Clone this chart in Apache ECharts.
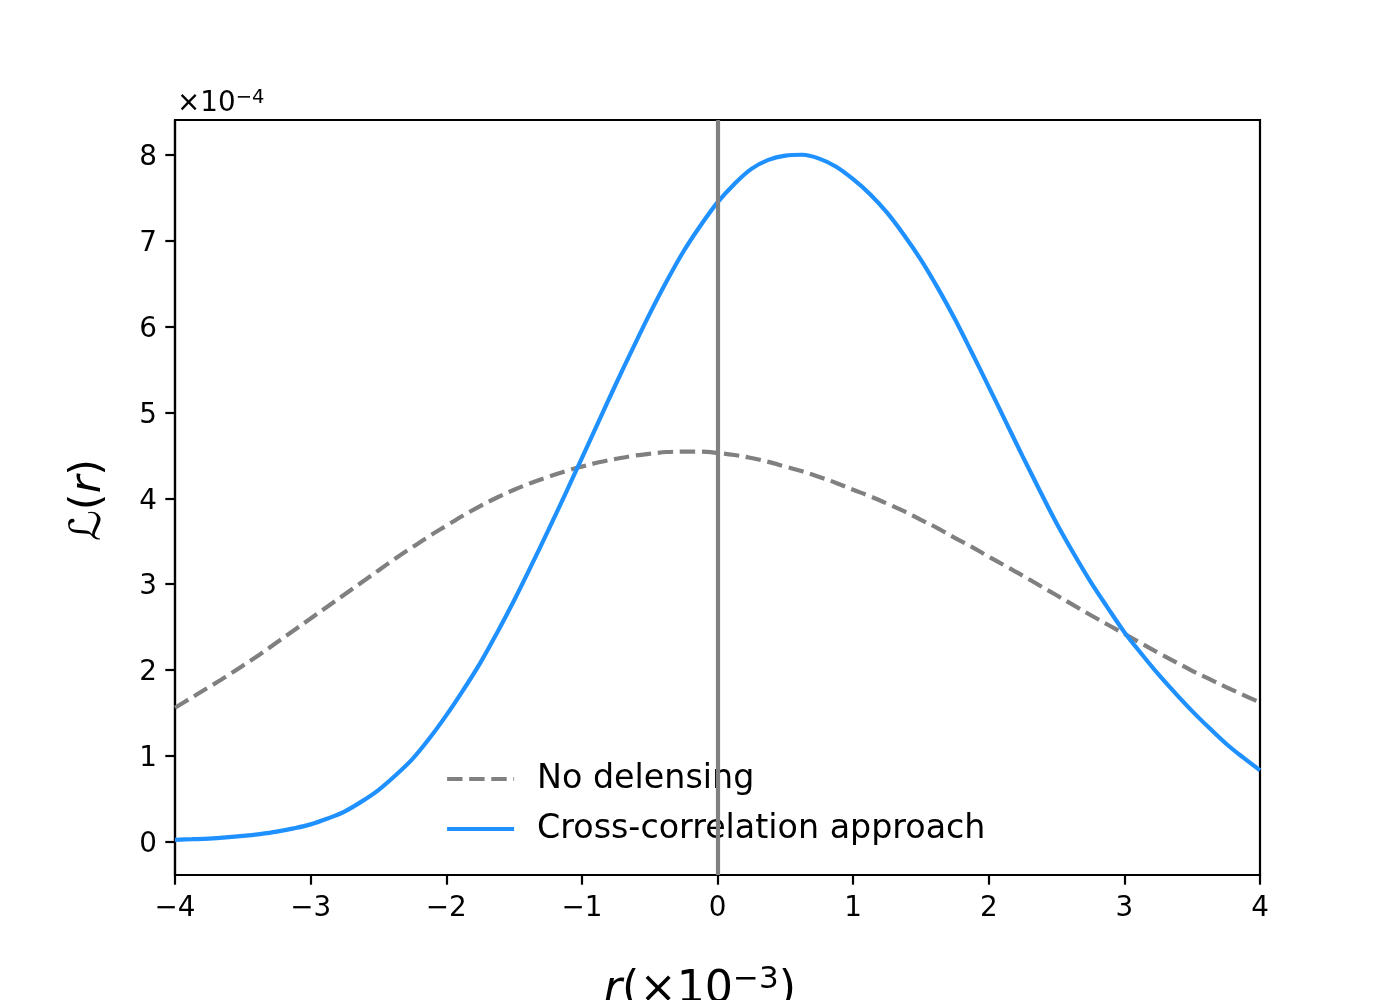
<!DOCTYPE html>
<html>
<head>
<meta charset="utf-8">
<script src="https://cdn.jsdelivr.net/npm/echarts@6/dist/echarts.min.js"></script>
<style>
html,body{margin:0;padding:0;background:#fff;}
#chart{width:1400px;height:1000px;}
</style>
</head>
<body>
<div id="chart"></div>
<script>
// r (x1e-3) sample positions
var rValues = [-4, -3.875, -3.75, -3.625, -3.5, -3.375, -3.25, -3.125, -3, -2.875, -2.75, -2.625, -2.5, -2.375, -2.25, -2.125,
               -2, -1.875, -1.75, -1.625, -1.5, -1.375, -1.25, -1.125, -1, -0.875, -0.75, -0.625, -0.5, -0.375, -0.25, -0.125,
               0, 0.125, 0.25, 0.375, 0.5, 0.625, 0.75, 0.875, 1, 1.125, 1.25, 1.375, 1.5, 1.625, 1.75, 1.875,
               2, 2.125, 2.25, 2.375, 2.5, 2.625, 2.75, 2.875, 3, 3.125, 3.25, 3.375, 3.5, 3.625, 3.75, 3.875, 4];
// Likelihood (x1e-4)
var noDelensing = [1.56, 1.68, 1.80, 1.92, 2.05, 2.18, 2.32, 2.46, 2.60, 2.74, 2.88, 3.02, 3.16, 3.30, 3.43, 3.56,
                   3.68, 3.80, 3.91, 4.01, 4.10, 4.18, 4.25, 4.315, 4.37, 4.42, 4.46, 4.495, 4.52, 4.54, 4.545, 4.545,
                   4.53, 4.505, 4.47, 4.425, 4.37, 4.315, 4.25, 4.18, 4.10, 4.025, 3.94, 3.85, 3.75, 3.65, 3.54, 3.435,
                   3.32, 3.21, 3.10, 2.985, 2.87, 2.755, 2.64, 2.53, 2.42, 2.31, 2.20, 2.095, 1.99, 1.895, 1.80, 1.71, 1.62];
var crossCorrelation = [0.02, 0.027, 0.035, 0.048, 0.065, 0.087, 0.115, 0.153, 0.20, 0.268, 0.35, 0.465, 0.60, 0.77, 0.96, 1.20,
                        1.47, 1.765, 2.08, 2.435, 2.81, 3.21, 3.62, 4.04, 4.47, 4.90, 5.33, 5.745, 6.15, 6.53, 6.88, 7.18,
                        7.45, 7.665, 7.84, 7.945, 7.995, 8.005, 7.96, 7.865, 7.72, 7.545, 7.33, 7.07, 6.78, 6.45, 6.09, 5.70,
                        5.30, 4.895, 4.49, 4.095, 3.71, 3.36, 3.03, 2.73, 2.44, 2.19, 1.95, 1.73, 1.52, 1.325, 1.14, 0.98, 0.83];
var xTicks = [-4, -3, -2, -1, 0, 1, 2, 3, 4];
var yTicks = [0, 1, 2, 3, 4, 5, 6, 7, 8];
var seriesNames = ['No delensing', 'Cross-correlation approach'];

var FONT = 'DejaVu Sans';
var GRAY = '#808080', BLUE = '#1e90ff';
var DASH = [15.4, 6.7];
function fmt(v) { return v < 0 ? '\u2212' + Math.abs(v) : String(v); }
function pairs(ys) { return rValues.map(function (x, i) { return [x, ys[i]]; }); }

var chart = echarts.init(document.getElementById('chart'), null, {renderer: 'canvas'});
chart.setOption({
  animation: false,
  backgroundColor: '#ffffff',
  grid: {
    left: 175, right: 140, top: 120, bottom: 125,
    show: true, borderColor: '#000', borderWidth: 2.2,
    containLabel: false, outerBoundsMode: 'none'
  },
  xAxis: {
    type: 'value', min: -4, max: 4, interval: 1,
    axisLine: {show: true, onZero: false, lineStyle: {color: '#000', width: 2.2}},
    axisTick: {show: true, length: 9.7, lineStyle: {color: '#000', width: 2.2}},
    axisLabel: {color: '#000', fontSize: 27.8, fontFamily: FONT, margin: 19.5, formatter: fmt},
    splitLine: {show: false}
  },
  yAxis: {
    type: 'value', min: -0.39, max: 8.41,
    axisLine: {show: true, onZero: false, lineStyle: {color: '#000', width: 2.2}},
    axisTick: {show: true, length: 9.7, customValues: yTicks, lineStyle: {color: '#000', width: 2.2}},
    axisLabel: {
      color: '#000', fontSize: 27.8, fontFamily: FONT, margin: 18, customValues: yTicks,
      formatter: function (v) { return '{a|' + fmt(v) + '}'; },
      rich: {a: {color: '#000', fontSize: 27.8, fontFamily: FONT, padding: [6, 0, 0, 0]}}
    },
    splitLine: {show: false}
  },
  legend: {
    orient: 'vertical', left: 445, top: 762.5, padding: 0,
    itemWidth: 67, itemHeight: 4, itemGap: 17,
    itemStyle: {opacity: 0},
    data: [
      {name: seriesNames[0], itemStyle: {opacity: 0}, lineStyle: {color: GRAY, width: 4.2, type: DASH}},
      {name: seriesNames[1], itemStyle: {opacity: 0}, lineStyle: {color: BLUE, width: 4.2, type: 'solid'}}
    ],
    textStyle: {color: '#000', fontSize: 33.3, fontFamily: FONT, lineHeight: 33, padding: [0, 0, 0, 18]}
  },
  series: [
    {
      name: seriesNames[0], type: 'line', data: pairs(noDelensing), smooth: 0.35,
      symbol: 'none', showSymbol: false, z: 2,
      lineStyle: {color: GRAY, width: 4.2, type: DASH},
      itemStyle: {color: GRAY}
    },
    {
      name: seriesNames[1], type: 'line', data: pairs(crossCorrelation), smooth: 0.35,
      symbol: 'none', showSymbol: false, z: 3,
      lineStyle: {color: BLUE, width: 4.2, type: 'solid'},
      itemStyle: {color: BLUE}
    },
    {
      name: 'zero', type: 'line', data: [], z: 4,
      markLine: {
        silent: true, symbol: ['none', 'none'], animation: false,
        label: {show: false},
        lineStyle: {color: GRAY, width: 4.2, type: 'solid'},
        data: [{xAxis: 0}]
      }
    }
  ],
  graphic: [
    {
      type: 'text', x: 177, y: 104, z: 10,
      style: {
        text: '{n|\u00d710}{s|\u22124}',
        align: 'left', verticalAlign: 'middle',
        rich: {
          n: {fontSize: 27.8, fontFamily: FONT, color: '#000', lineHeight: 32, verticalAlign: 'middle'},
          s: {fontSize: 19.5, fontFamily: FONT, color: '#000', lineHeight: 19, verticalAlign: 'top'}
        }
      }
    },
    {
      type: 'text', x: 700, y: 990, z: 10,
      style: {
        text: '{i|r}{n|(\u00d710}{s|\u22123}{n|)}',
        align: 'center', verticalAlign: 'middle',
        rich: {
          i: {fontSize: 44.4, fontFamily: FONT, fontStyle: 'italic', color: '#000', lineHeight: 52, verticalAlign: 'middle'},
          n: {fontSize: 44.4, fontFamily: FONT, color: '#000', lineHeight: 52, verticalAlign: 'middle'},
          s: {fontSize: 31, fontFamily: FONT, color: '#000', lineHeight: 28, verticalAlign: 'top'}
        }
      }
    },
    {
      type: 'text', x: 89, y: 500, rotation: Math.PI / 2, z: 10,
      style: {
        text: '{n|\u2112(}{i|r}{n|)}',
        align: 'center', verticalAlign: 'middle',
        rich: {
          i: {fontSize: 43, fontFamily: FONT, fontStyle: 'italic', color: '#000', lineHeight: 50, verticalAlign: 'middle'},
          n: {fontSize: 43, fontFamily: FONT, color: '#000', lineHeight: 50, verticalAlign: 'middle'}
        }
      }
    }
  ]
});
</script>
</body>
</html>
